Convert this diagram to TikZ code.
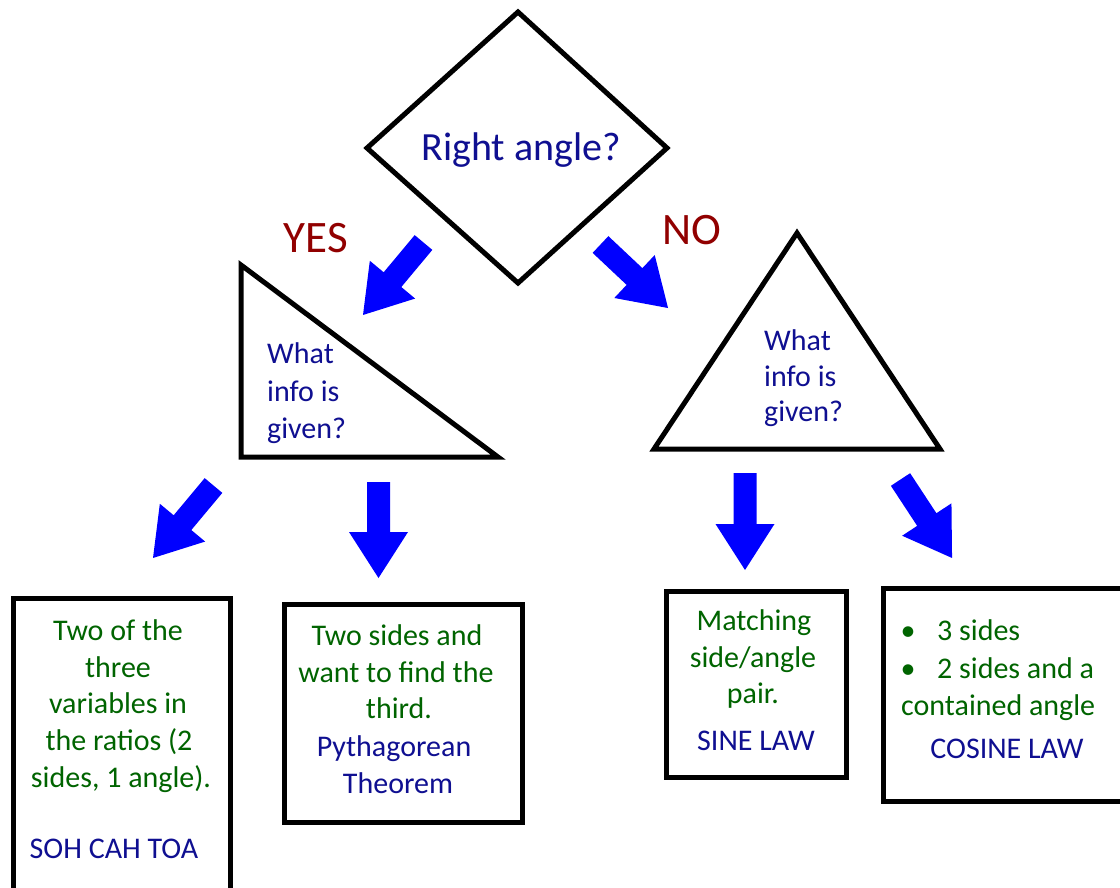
\documentclass[tikz,border=0pt]{standalone}
\usepackage{fontspec}
\setmainfont{Carlito}
\definecolor{txtblue}{RGB}{15,15,145}
\definecolor{txtgreen}{RGB}{0,100,0}
\definecolor{txtred}{RGB}{145,0,0}
\definecolor{arrowblue}{RGB}{0,0,255}
\newcommand\blockarrow[5]{% name, tail x, tail y, angle, length
  \coordinate (#1) at (#2,#3);
  \fill[arrowblue, shift={(#1)}, rotate=#4]
    (0,-11.5) -- ({#5-46},-11.5) -- ({#5-46},-29.5) -- (#5,0)
    -- ({#5-46},29.5) -- ({#5-46},11.5) -- (0,11.5) -- cycle;}
\begin{document}
\begin{tikzpicture}[x=1pt,y=-1pt,
  shapeline/.style={draw=black, line width=5pt, line join=miter},
  txt/.style={inner sep=0pt, anchor=base, font=\fontsize{30}{37}\selectfont},
  ltxt/.style={txt, anchor=base west},
  bluet/.style={text=txtblue},
  greent/.style={text=txtgreen},
  bigt/.style={inner sep=0pt, anchor=base, text=txtred, font=\fontsize{45}{54}\selectfont}]
\useasboundingbox (0,0) rectangle (1120,887);
\clip (0,0) rectangle (1120,887);
\fill[white] (0,0) rectangle (1120,887);

% decision diamond
\draw[shapeline] (518,12) -- (667,148) -- (518,283) -- (367,148) -- cycle;
\node[inner sep=0pt, anchor=base, text=txtblue, font=\fontsize{40}{48}\selectfont] (q) at (521,160) {Right angle?};

% YES / NO
\node[bigt] (yes) at (316,252) {YES};
\node[bigt] (no) at (692,244) {NO};

% right triangle (left)
\draw[shapeline] (241,265) -- (241,457) -- (498,457) -- cycle;
\node[ltxt, bluet] (lt1) at (267,363) {What};
\node[ltxt, bluet] (lt2) at (267,401) {info is};
\node[ltxt, bluet] (lt3) at (267,438) {given?};

% isosceles triangle (right)
\draw[shapeline] (797,233) -- (940,449) -- (654,449) -- cycle;
\node[ltxt, bluet] (rt1) at (764,350) {What};
\node[ltxt, bluet] (rt2) at (764,386) {info is};
\node[ltxt, bluet] (rt3) at (764,421) {given?};

% arrows
\blockarrow{a1}{423.5}{242.5}{-129.85}{94.4}
\blockarrow{a2}{600.5}{244.5}{-43.25}{92.7}
\blockarrow{a3}{213.5}{485.5}{-129.85}{94.4}
\blockarrow{a4}{378.5}{482}{-90}{96}
\blockarrow{a5}{745}{473}{-90}{97}
\blockarrow{a6}{900.5}{479.5}{-56.7}{93.9}

% box 1
\draw[shapeline] (13,598) rectangle (230,905);
\node[txt, greent] (b1a) at (118,640) {Two of the};
\node[txt, greent] (b1b) at (118,677) {three};
\node[txt, greent] (b1c) at (118,713) {variables in};
\node[txt, greent] (b1d) at (119,750) {the ratios (2};
\node[txt, greent] (b1e) at (121,787) {sides, 1 angle).};
\node[txt, bluet] (b1f) at (114,858) {SOH CAH TOA};

% box 2
\draw[shapeline] (284,604) rectangle (522,822);
\node[txt, greent] (b2a) at (397,645) {Two sides and};
\node[txt, greent] (b2b) at (396,682) {want to find the};
\node[txt, greent] (b2c) at (399,718) {third.};
\node[txt, bluet] (b2d) at (394,756) {Pythagorean};
\node[txt, bluet] (b2e) at (398,793) {Theorem};

% box 3
\draw[shapeline] (666,591) rectangle (846,777);
\node[txt, greent] (b3a) at (754,630) {Matching};
\node[txt, greent] (b3b) at (753,667) {side/angle};
\node[txt, greent] (b3c) at (753,703) {pair.};
\node[txt, bluet] (b3d) at (756,750) {SINE LAW};

% box 4
\draw[shapeline] (883,588) rectangle (1135,801);
\node[txt, greent] (b4d1) at (908,640) {•};
\node[ltxt, greent] (b4a) at (937,640) {3 sides};
\node[txt, greent] (b4d2) at (908,678) {•};
\node[ltxt, greent] (b4b) at (937,678) {2 sides and a};
\node[ltxt, greent] (b4c) at (901,715) {contained angle};
\node[txt, bluet] (b4e) at (1007,758) {COSINE LAW};
\end{tikzpicture}
\end{document}
